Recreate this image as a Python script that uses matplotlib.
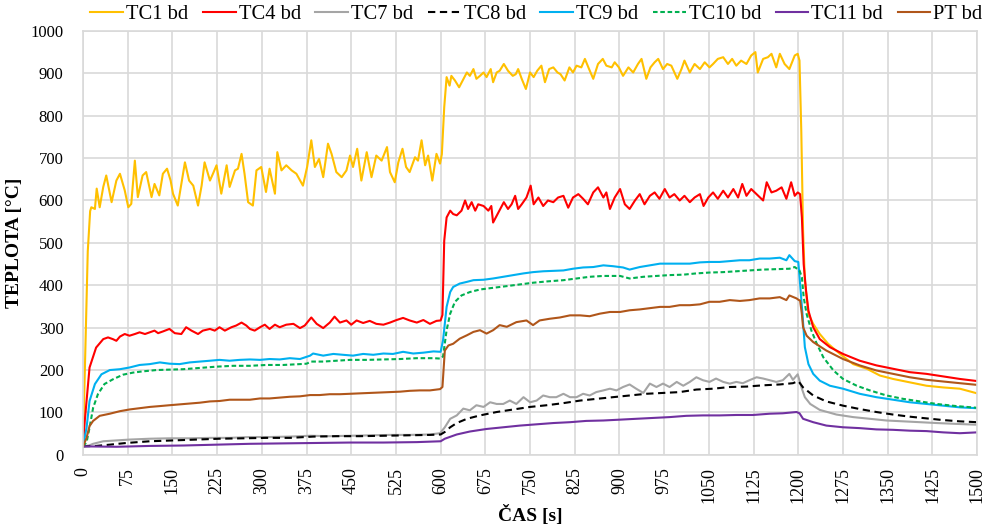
import matplotlib
matplotlib.use("Agg")
import matplotlib.pyplot as plt

plt.rcParams["font.family"] = ["Liberation Serif", "DejaVu Serif"]

# ---------------------------------------------------------------------------
# Data (time in s, temperature in deg C)
# ---------------------------------------------------------------------------

t_tc1 = [0, 4, 8, 12, 14, 20, 23, 28, 34, 39,
         48, 56, 62, 70, 76, 81, 87, 92, 100, 106,
         115, 120, 128, 134, 141, 147, 151, 159, 165, 171,
         178, 185, 193, 199, 204, 213, 218, 224, 232, 241,
         246, 255, 260, 266, 271, 277, 285, 291, 299, 307,
         313, 322, 326, 333, 341, 350, 358, 369, 376, 383,
         389, 396, 403, 411, 417, 425, 434, 442, 448, 453,
         460, 467, 476, 484, 492, 501, 510, 515, 523, 529,
         536, 542, 548, 557, 562, 568, 574, 579, 586, 593,
         599, 602, 606, 610, 615, 618, 624, 631, 637, 644,
         649, 655, 660, 666, 672, 677, 684, 688, 694, 699,
         706, 713, 721, 726, 730, 736, 743, 750, 756, 762,
         769, 775, 782, 789, 796, 801, 808, 816, 822, 828,
         836, 842, 849, 856, 864, 872, 878, 887, 892, 899,
         906, 915, 923, 931, 937, 945, 952, 959, 965, 973,
         980, 987, 997, 1004, 1009, 1018, 1026, 1035, 1043, 1051,
         1057, 1065, 1074, 1082, 1089, 1096, 1104, 1113, 1121, 1128,
         1132, 1141, 1149, 1155, 1163, 1169, 1177, 1185, 1194, 1199,
         1202, 1205, 1208, 1211, 1217, 1225, 1236, 1250, 1270, 1292,
         1315, 1337, 1359, 1387, 1415, 1443, 1471, 1500]
tc1 = [20, 250, 480, 575, 584, 580, 628, 584, 632, 659,
       596, 647, 663, 624, 584, 592, 694, 608, 659, 667,
       608, 639, 612, 663, 675, 647, 616, 588, 639, 690,
       647, 635, 588, 635, 690, 647, 663, 683, 616, 683,
       632, 671, 675, 710, 663, 596, 588, 671, 679, 620,
       675, 616, 714, 671, 683, 671, 663, 635, 679, 742,
       679, 698, 655, 734, 710, 667, 655, 671, 706, 679,
       722, 647, 714, 655, 706, 694, 726, 667, 643, 690,
       722, 679, 667, 702, 694, 742, 683, 706, 647, 710,
       687, 709, 820, 891, 871, 894, 883, 867, 883, 902,
       894, 910, 887, 894, 902, 891, 910, 879, 902, 906,
       922, 906, 894, 898, 910, 887, 863, 902, 891, 906,
       918, 879, 910, 914, 902, 898, 883, 914, 902, 918,
       914, 934, 910, 887, 922, 934, 918, 914, 926, 914,
       894, 914, 902, 922, 934, 887, 914, 926, 934, 910,
       922, 918, 887, 910, 930, 902, 922, 910, 926, 914,
       922, 934, 938, 922, 934, 918, 930, 922, 942, 950,
       902, 934, 938, 946, 914, 946, 922, 910, 942, 946,
       930, 764, 529, 411, 332, 309, 285, 262, 238, 214,
       203, 187, 179, 171, 163, 159, 156, 145]

t_tc4 = [0, 3, 6, 11, 22, 34, 42, 50, 56, 62,
         70, 78, 87, 95, 104, 112, 120, 126, 134, 145,
         154, 165, 173, 182, 193, 201, 213, 221, 229, 238,
         249, 257, 266, 274, 280, 288, 297, 305, 313, 322,
         330, 341, 353, 364, 372, 383, 392, 403, 414, 422,
         431, 442, 450, 459, 470, 481, 492, 504, 515, 526,
         537, 548, 560, 571, 582, 593, 600, 603, 606, 610,
         616, 621, 627, 635, 641, 646, 652, 658, 663, 672,
         680, 685, 688, 694, 701, 706, 713, 719, 725, 730,
         736, 744, 751, 756, 764, 772, 780, 789, 797, 806,
         814, 822, 831, 839, 847, 856, 864, 873, 878, 884,
         892, 901, 909, 917, 926, 934, 942, 951, 959, 967,
         976, 984, 992, 1001, 1009, 1018, 1026, 1035, 1041, 1049,
         1057, 1065, 1074, 1082, 1091, 1099, 1106, 1113, 1121, 1130,
         1141, 1147, 1155, 1163, 1172, 1180, 1188, 1194, 1199, 1203,
         1206, 1209, 1213, 1217, 1225, 1236, 1253, 1275, 1303, 1331,
         1359, 1387, 1415, 1443, 1471, 1500]
tc4 = [20, 80, 127, 206, 253, 273, 277, 273, 269, 279,
       285, 281, 285, 289, 285, 289, 293, 287, 291, 297,
       287, 285, 301, 293, 285, 293, 297, 293, 301, 293,
       301, 305, 312, 305, 297, 293, 301, 307, 297, 307,
       301, 307, 309, 299, 305, 324, 309, 299, 312, 326,
       312, 317, 307, 317, 311, 316, 309, 307, 312, 318,
       323, 317, 312, 318, 309, 316, 317, 330, 505, 560,
       576, 568, 565, 576, 600, 580, 596, 576, 591, 587,
       576, 587, 548, 564, 583, 596, 580, 591, 611, 580,
       591, 607, 635, 591, 607, 587, 600, 596, 607, 611,
       583, 607, 615, 604, 591, 619, 631, 607, 619, 580,
       607, 627, 591, 580, 600, 615, 591, 611, 619, 604,
       627, 607, 615, 600, 611, 596, 607, 615, 587, 607,
       619, 604, 623, 607, 627, 607, 639, 611, 627, 615,
       600, 643, 619, 623, 631, 604, 643, 611, 619, 615,
       560, 450, 387, 340, 301, 273, 254, 238, 222, 211,
       203, 195, 191, 185, 179, 174]

t_tc7 = [0, 10, 17, 34, 56, 78, 112, 145, 179, 213,
         246, 280, 313, 347, 381, 414, 448, 481, 515, 548,
         582, 599, 607, 616, 627, 638, 649, 660, 672, 683,
         694, 705, 716, 727, 739, 750, 761, 772, 783, 794,
         806, 817, 828, 839, 850, 861, 873, 884, 895, 906,
         917, 928, 940, 951, 962, 973, 984, 996, 1007, 1018,
         1029, 1040, 1051, 1062, 1074, 1085, 1096, 1107, 1118, 1130,
         1141, 1152, 1163, 1174, 1185, 1191, 1199, 1206, 1211, 1220,
         1236, 1264, 1292, 1320, 1348, 1376, 1404, 1432, 1465, 1500]
tc7 = [20, 22, 26, 32, 34, 36, 38, 39, 39, 40,
       40, 42, 42, 43, 45, 44, 45, 46, 47, 47,
       48, 51, 65, 85, 93, 109, 105, 117, 113, 124,
       120, 120, 128, 120, 136, 124, 128, 140, 136, 136,
       144, 136, 136, 144, 140, 148, 152, 156, 152, 160,
       166, 156, 146, 168, 160, 168, 160, 172, 163, 172,
       183, 176, 172, 180, 172, 168, 172, 169, 176, 183,
       180, 176, 172, 176, 191, 177, 190, 156, 136, 120,
       106, 95, 89, 85, 81, 79, 77, 75, 73, 71]

t_tc8 = [0, 22, 45, 73, 112, 151, 190, 229, 269, 308,
         347, 386, 425, 464, 504, 543, 582, 600, 607, 616,
         627, 644, 666, 694, 722, 750, 778, 806, 834, 861,
         889, 917, 945, 973, 1001, 1029, 1057, 1085, 1113, 1141,
         1169, 1191, 1200, 1208, 1225, 1247, 1275, 1303, 1331, 1359,
         1387, 1415, 1443, 1471, 1500]
tc8 = [20, 21, 24, 28, 32, 34, 36, 38, 39, 40,
       40, 43, 44, 44, 45, 46, 47, 48, 54, 65,
       75, 85, 93, 101, 107, 113, 117, 122, 128, 132,
       136, 140, 144, 146, 148, 154, 156, 160, 161, 164,
       166, 169, 174, 159, 140, 126, 116, 108, 101, 95,
       90, 86, 82, 79, 77]

t_tc9 = [0, 6, 11, 20, 31, 45, 62, 78, 95, 112,
         129, 145, 162, 179, 196, 213, 229, 246, 263, 280,
         297, 313, 330, 347, 364, 381, 386, 403, 420, 436,
         453, 470, 487, 504, 520, 537, 554, 571, 588, 600,
         604, 610, 616, 621, 632, 644, 655, 672, 688, 705,
         722, 739, 755, 772, 789, 806, 822, 839, 856, 873,
         889, 906, 917, 934, 951, 968, 984, 1001, 1018, 1035,
         1051, 1068, 1085, 1102, 1118, 1135, 1152, 1169, 1180, 1185,
         1194, 1200, 1203, 1207, 1211, 1217, 1225, 1236, 1253, 1275,
         1303, 1331, 1359, 1387, 1415, 1443, 1471, 1500]
tc9 = [20, 64, 127, 167, 190, 200, 202, 206, 212, 214,
       218, 215, 214, 218, 220, 222, 224, 222, 224, 225,
       224, 226, 225, 228, 226, 234, 239, 234, 238, 236,
       234, 238, 236, 239, 238, 243, 239, 241, 244, 243,
       270, 349, 384, 396, 404, 408, 412, 413, 416, 420,
       424, 428, 431, 433, 434, 435, 439, 442, 443, 447,
       445, 442, 437, 443, 447, 451, 451, 451, 451, 454,
       455, 455, 457, 459, 459, 463, 463, 465, 459, 471,
       457, 455, 403, 332, 254, 214, 191, 175, 163, 156,
       144, 136, 130, 124, 120, 116, 112, 110]

t_tc10 = [0, 6, 11, 17, 25, 36, 50, 67, 84, 101,
          123, 145, 168, 196, 224, 252, 280, 308, 336, 364,
          375, 383, 403, 425, 448, 476, 504, 532, 560, 588,
          600, 604, 610, 616, 624, 635, 649, 666, 688, 711,
          733, 755, 778, 806, 828, 850, 873, 901, 917, 940,
          962, 984, 1007, 1029, 1051, 1074, 1096, 1118, 1141, 1163,
          1185, 1194, 1202, 1206, 1209, 1214, 1222, 1231, 1242, 1259,
          1275, 1298, 1320, 1348, 1376, 1404, 1432, 1465, 1500]
tc10 = [20, 30, 64, 111, 143, 167, 178, 189, 194, 197,
        200, 201, 202, 205, 208, 210, 210, 212, 212, 214,
        215, 220, 220, 222, 224, 224, 225, 226, 228, 228,
        227, 232, 294, 333, 361, 376, 384, 390, 394, 398,
        402, 406, 409, 412, 416, 420, 422, 422, 416, 420,
        422, 424, 425, 428, 430, 431, 433, 435, 437, 438,
        439, 443, 435, 419, 372, 332, 293, 262, 230, 199,
        179, 163, 152, 140, 132, 126, 120, 115, 111]

t_tc11 = [0, 56, 112, 168, 224, 280, 336, 392, 448, 504,
          560, 600, 607, 627, 649, 677, 705, 733, 761, 789,
          817, 844, 873, 901, 928, 956, 984, 1012, 1040, 1068,
          1096, 1124, 1152, 1174, 1197, 1202, 1208, 1225, 1247, 1275,
          1303, 1331, 1359, 1387, 1415, 1443, 1471, 1500]
tc11 = [20, 19, 21, 22, 24, 26, 27, 28, 29, 29,
        30, 32, 38, 48, 55, 61, 65, 69, 72, 75,
        77, 80, 81, 83, 85, 87, 89, 92, 93, 93,
        94, 94, 97, 98, 101, 98, 85, 77, 69, 65,
        63, 60, 59, 57, 56, 53, 51, 53]

t_pt = [0, 6, 11, 17, 28, 45, 62, 78, 95, 112,
        129, 145, 162, 179, 196, 213, 229, 246, 263, 280,
        297, 313, 330, 347, 364, 381, 397, 414, 431, 448,
        464, 481, 498, 515, 532, 548, 565, 582, 599, 603,
        607, 613, 621, 632, 644, 655, 666, 677, 688, 699,
        711, 727, 744, 755, 766, 783, 800, 817, 834, 850,
        867, 884, 901, 917, 934, 951, 968, 984, 1001, 1018,
        1035, 1051, 1068, 1085, 1102, 1118, 1135, 1152, 1169, 1180,
        1185, 1197, 1201, 1203, 1206, 1208, 1214, 1225, 1247, 1275,
        1303, 1331, 1359, 1387, 1415, 1443, 1471, 1500]
pt = [20, 40, 68, 80, 92, 97, 103, 107, 110, 113,
      115, 117, 119, 121, 123, 126, 127, 130, 130, 130,
      133, 133, 135, 137, 138, 141, 141, 143, 143, 144,
      145, 146, 147, 148, 149, 151, 152, 152, 155, 160,
      246, 258, 262, 274, 282, 290, 294, 286, 294, 306,
      302, 313, 317, 306, 317, 321, 324, 329, 329, 327,
      333, 337, 337, 341, 343, 346, 349, 349, 353, 353,
      355, 361, 361, 365, 363, 365, 369, 369, 372, 365,
      376, 369, 365, 364, 332, 301, 281, 266, 246, 226,
      211, 199, 191, 183, 177, 173, 169, 165]

labels = ["TC1 bd", "TC4 bd", "TC7 bd", "TC8 bd",
          "TC9 bd", "TC10 bd", "TC11 bd", "PT bd"]
colors = ["#FFC000", "#FF0000", "#A5A5A5", "#000000",
          "#00B0F0", "#00B050", "#7030A0", "#B0561A"]

x_ticks = list(range(0, 1501, 75))
y_ticks = list(range(0, 1001, 100))

# ---------------------------------------------------------------------------
# Plot
# ---------------------------------------------------------------------------

series = [(t_tc1, tc1), (t_tc4, tc4), (t_tc7, tc7), (t_tc8, tc8),
          (t_tc9, tc9), (t_tc10, tc10), (t_tc11, tc11), (t_pt, pt)]
dashes = {3: (3.5, 2.2), 5: (2.2, 1.3)}

fig = plt.figure(figsize=(9.88, 5.24), dpi=100)
ax = fig.add_axes([0.084, 0.132, 0.905, 0.809])

for i, (tt, vals) in enumerate(series):
    line, = ax.plot(tt, vals, color=colors[i], lw=1.5, label=labels[i])
    if i in dashes:
        line.set_dashes(dashes[i])

ax.set_xlim(0, 1500)
ax.set_ylim(0, 1000)
ax.set_xticks(x_ticks)
ax.set_yticks(y_ticks)
ax.set_xticklabels([str(v) for v in x_ticks], rotation=90, fontsize=13)
ax.set_yticklabels([str(v) for v in y_ticks], fontsize=12)
ax.tick_params(length=0)
ax.tick_params(axis="x", pad=9)
ax.tick_params(axis="y", pad=14)
ax.grid(True, color="#D9D9D9", lw=1.2)
ax.set_axisbelow(True)
for sp in ax.spines.values():
    sp.set_color("#D9D9D9")
    sp.set_linewidth(1.2)

ax.set_xlabel("ČAS [s]", fontsize=14, fontweight="bold", labelpad=1)
ax.set_ylabel("TEPLOTA [°C]", fontsize=14, fontweight="bold", labelpad=5)

fig.legend(loc="center", bbox_to_anchor=(0.543, 0.972), ncol=8,
           frameon=False, fontsize=14.8, handlelength=1.6,
           handletextpad=0.15, columnspacing=0.7, borderaxespad=0)

fig.savefig("out.png", dpi=100)
